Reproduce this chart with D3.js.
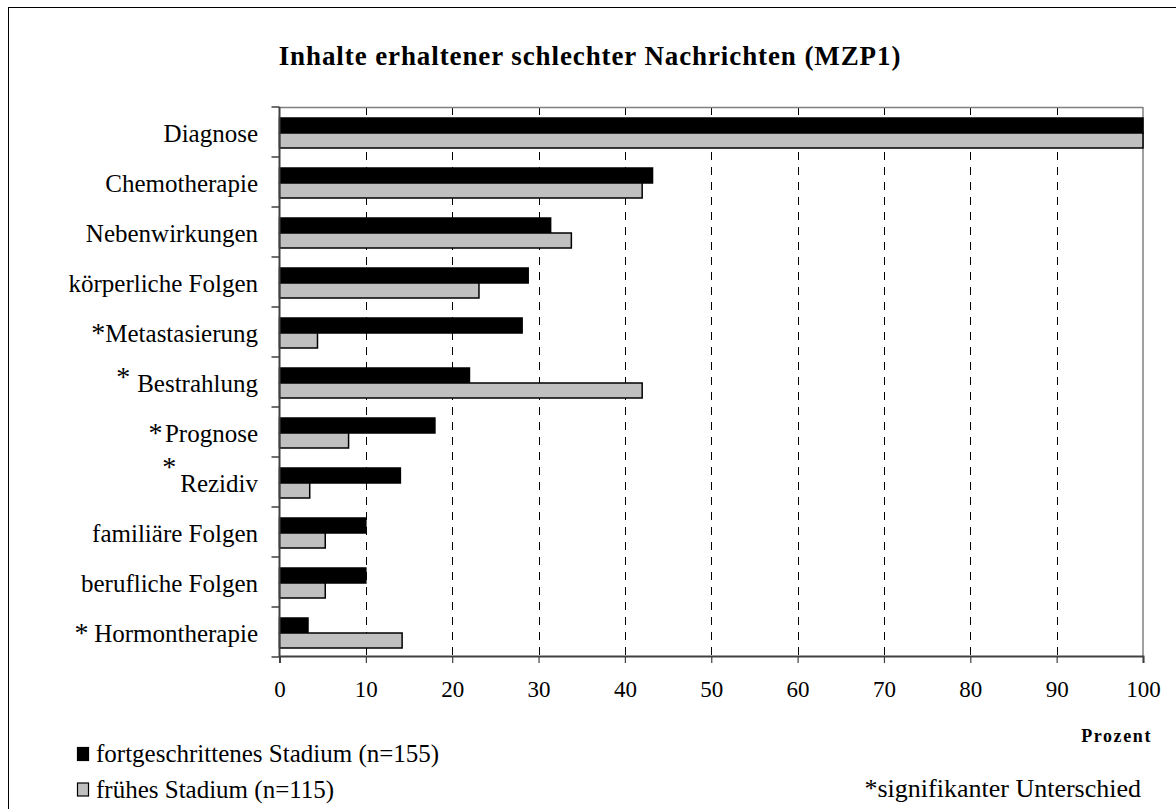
<!DOCTYPE html>
<html>
<head>
<meta charset="utf-8">
<script src="https://cdn.jsdelivr.net/npm/d3@7"></script>
<style>
  html, body { margin: 0; padding: 0; background: #fff; }
  svg { display: block; font-family: "Liberation Serif", "Times New Roman", serif; }
</style>
</head>
<body>
<svg id="chart" width="1176" height="809"></svg>
<script>
// Categories, top to bottom
const categories = ["Diagnose", "Chemotherapie", "Nebenwirkungen", "körperliche Folgen",
  "Metastasierung", "Bestrahlung", "Prognose", "Rezidiv", "familiäre Folgen",
  "berufliche Folgen", "Hormontherapie"];
// Significance marker per category: "" none, "*" tight, "* " spaced and raised,
// "*\u2009" with a thin gap, "^" above the label
const significance = ["", "", "", "", "*", "* ", "*\u200a", "^", "", "", "*\u2009"];
// Percent, advanced stage
const advanced = [100, 43.2, 31.4, 28.8, 28.1, 22.0, 18.0, 14.0, 10.0, 10.0, 3.3];
// Percent, early stage
const early = [100, 42.0, 33.8, 23.1, 4.4, 42.0, 8.0, 3.5, 5.3, 5.3, 14.2];
const seriesNames = ["fortgeschrittenes Stadium (n=155)", "frühes Stadium (n=115)"];
const seriesColors = ["#000000", "#c0c0c0"];
const xTicks = [0, 10, 20, 30, 40, 50, 60, 70, 80, 90, 100];
const gridTicks = [10, 20, 30, 40, 50, 60, 70, 80, 90];

const title = "Inhalte erhaltener schlechter Nachrichten (MZP1)";
const xTitle = "Prozent";
const note = "*signifikanter Unterschied";

const svg = d3.select("#chart");

// outer frame
svg.append("rect").attr("x", 8.5).attr("y", 7.5).attr("width", 1200).attr("height", 900)
  .attr("fill", "none").attr("stroke", "#000").attr("stroke-width", 1);

const plot = { left: 279.5, right: 1143, top: 107, bottom: 657 };

const x = d3.scaleLinear().domain([0, 100]).range([plot.left, plot.right]);
const y = d3.scaleBand().domain(categories).range([plot.top, plot.bottom]).padding(0);
const ySub = d3.scaleBand().domain([0, 1]).range([1, y.bandwidth() + 1]).paddingInner(0).paddingOuter(0.667);

// title
svg.append("text").attr("x", 590).attr("y", 65).attr("text-anchor", "middle")
  .attr("font-weight", "bold").attr("font-size", 27).attr("letter-spacing", 0.9)
  .attr("fill", "#000").text(title);

// dashed grid lines
svg.append("g").selectAll("line").data(gridTicks).join("line")
  .attr("x1", d => Math.round(x(d)) + 0.5).attr("x2", d => Math.round(x(d)) + 0.5)
  .attr("y1", plot.top).attr("y2", plot.bottom)
  .attr("stroke", "#000").attr("stroke-width", 1).attr("stroke-dasharray", "8,7");

// plot frame: top and right in grey
svg.append("line").attr("x1", plot.left).attr("x2", plot.right).attr("y1", plot.top + 0.5).attr("y2", plot.top + 0.5)
  .attr("stroke", "#808080").attr("stroke-width", 1.5);
svg.append("line").attr("x1", plot.right).attr("x2", plot.right).attr("y1", plot.top).attr("y2", plot.bottom)
  .attr("stroke", "#808080").attr("stroke-width", 1.5);

// bars
const rows = categories.map((c, i) => ({ c, vals: [advanced[i], early[i]] }));
const groups = svg.append("g").selectAll("g").data(rows).join("g")
  .attr("transform", d => `translate(0,${y(d.c)})`);
groups.selectAll("rect").data(d => d.vals.map((v, k) => ({ v, k }))).join("rect")
  .attr("x", x(0))
  .attr("y", d => ySub(d.k))
  .attr("width", d => x(d.v) - x(0))
  .attr("height", ySub.bandwidth())
  .attr("fill", d => seriesColors[d.k])
  .attr("stroke", "#000").attr("stroke-width", 1.5);

// left axis with category ticks at band boundaries
const yAxisG = svg.append("g");
yAxisG.append("line").attr("x1", plot.left).attr("x2", plot.left).attr("y1", plot.top).attr("y2", plot.bottom)
  .attr("stroke", "#404040").attr("stroke-width", 2);
const boundaries = categories.map(c => y(c)).concat([plot.bottom]);
yAxisG.selectAll("line.tick").data(boundaries).join("line").attr("class", "tick")
  .attr("x1", plot.left - 8).attr("x2", plot.left).attr("y1", d => d).attr("y2", d => d)
  .attr("stroke", "#404040").attr("stroke-width", 1.5);

// bottom axis
const xAxis = d3.axisBottom(x).tickValues(xTicks).tickSize(7).tickPadding(18).tickFormat(d3.format("d"));
const xAxisG = svg.append("g").attr("transform", `translate(0,${plot.bottom - 1})`).call(xAxis);
xAxisG.select(".domain").attr("stroke", "#404040").attr("stroke-width", 2);
xAxisG.selectAll(".tick line").attr("stroke", "#404040").attr("stroke-width", 1.2);
xAxisG.selectAll(".tick text").attr("font-size", 23).attr("font-family", "Liberation Serif").attr("fill", "#000");

// category labels (baseline placed directly, so tspans keep the same line)
const labelX = 258;
const labels = svg.append("g");
categories.forEach((c, i) => {
  const cy = y(c) + y.bandwidth() / 2;
  const t = labels.append("text").attr("x", labelX).attr("y", cy + 9.5)
    .attr("text-anchor", "end").attr("font-size", 25).attr("fill", "#000");
  const s = significance[i];
  if (s && s !== "^") {
    const raised = s === "* ";
    t.append("tspan").attr("font-size", 28).attr("dy", raised ? -6 : 0).text(s.replace(" ", "\u00a0"));
    t.append("tspan").attr("dy", raised ? 6 : 0).text(c);
  } else {
    t.append("tspan").text(c);
  }
  if (s === "^") {
    const w = t.node().getComputedTextLength();
    labels.append("text").attr("x", labelX - w - 4).attr("y", cy - 6)
      .attr("text-anchor", "end").attr("font-size", 28).attr("fill", "#000").text("*");
  }
});

// axis title
svg.append("text").attr("x", 1152).attr("y", 742).attr("text-anchor", "end")
  .attr("font-weight", "bold").attr("font-size", 18).attr("letter-spacing", 1.6)
  .attr("fill", "#000").text(xTitle);

// legend
const legend = svg.append("g");
seriesNames.forEach((name, k) => {
  const ly = 754 + k * 35.5;
  legend.append("rect").attr("x", 77.5).attr("y", ly - 6.5).attr("width", 11).attr("height", 13)
    .attr("fill", seriesColors[k]).attr("stroke", "#000").attr("stroke-width", 1.2);
  legend.append("text").attr("x", 96).attr("y", ly + 8).attr("font-size", 25).attr("fill", "#000").text(name);
});

// significance note
svg.append("text").attr("x", 1141).attr("y", 797).attr("text-anchor", "end")
  .attr("font-size", 26).attr("fill", "#000").text(note);
</script>
</body>
</html>
